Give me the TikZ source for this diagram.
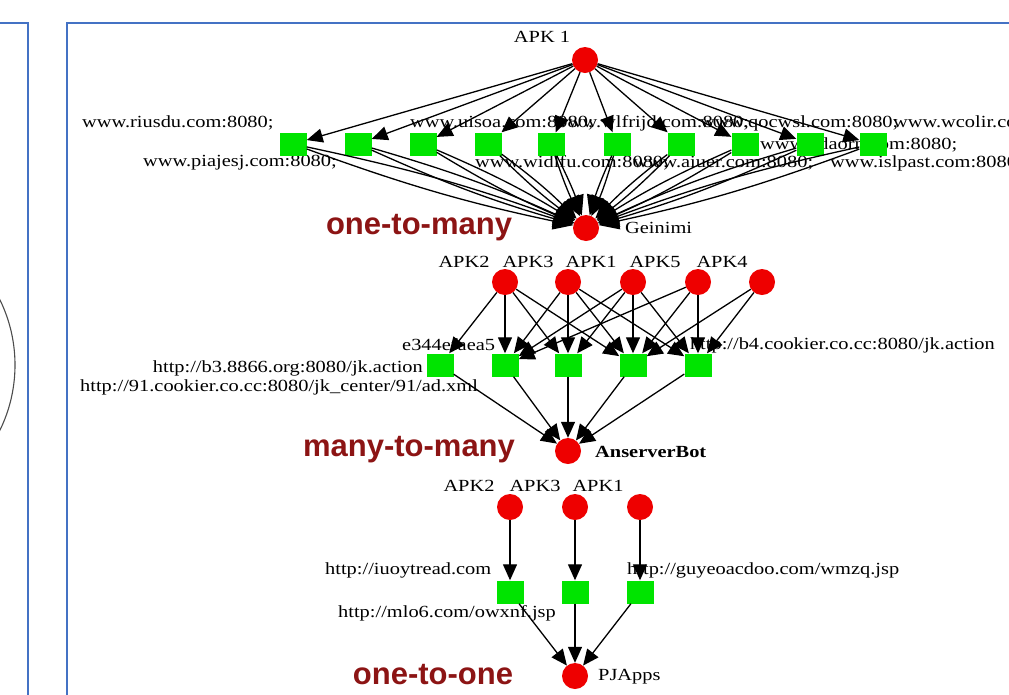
\documentclass[tikz,border=0pt]{standalone}
\usepackage{fontspec}
\usetikzlibrary{arrows.meta}
\newfontfamily\lblfont[FakeStretch=1.2]{Liberation Serif}
\newfontfamily\ttlfont{Liberation Sans}
\definecolor{frameblue}{RGB}{68,114,196}
\definecolor{nodered}{RGB}{238,0,0}
\definecolor{boxgreen}{RGB}{0,228,0}
\definecolor{titlered}{RGB}{140,20,20}
\pgfdeclarelayer{bg}
\pgfsetlayers{bg,main}
\begin{document}
\begin{tikzpicture}[x=1pt,y=-1pt,
  host/.style={circle, fill=nodered, minimum size=26pt, inner sep=0pt},
  url/.style={rectangle, fill=boxgreen, minimum width=27pt, minimum height=23pt, inner sep=0pt},
  lbl/.style={font=\lblfont\fontsize{17}{20}\selectfont, inner sep=0pt},
  lblw/.style={lbl, anchor=west},
  lble/.style={lbl, anchor=east},
  kind/.style={font=\ttlfont\bfseries\fontsize{31}{36}\selectfont, text=titlered, inner sep=0pt},
  link/.style={draw=black, line width=1.3pt, -{Triangle[length=16pt,width=14pt]}},
  fan/.style={draw=black, line width=1.3pt, -{Triangle[length=20pt,width=17pt]}},
  panel/.style={draw=frameblue, line width=1.2pt}
]
\useasboundingbox (0,0) rectangle (1009,694);
\clip (0,0) rectangle (1009,694);

% ---------- nodes ----------
% one-to-many: Geinimi
\node[host] (apk) at (585,60) {};
\foreach \x [count=\i] in {293,358,423,488,551,617,681,745,810,873}
  \node[url] (t\i) at (\x,144) {};
\node[host] (gei) at (586,228) {};

% many-to-many: AnserverBot
\foreach \x [count=\i] in {505,568,633,698,762}
  \node[host] (m\i) at (\x,282) {};
\foreach \x [count=\i] in {440,505,568,633,698}
  \node[url] (s\i) at (\x,365) {};
\node[host] (bot) at (568,451) {};

% one-to-one: PJApps
\foreach \x [count=\i] in {510,575,640}
  \node[host] (b\i) at (\x,507) {};
\foreach \x [count=\i] in {510,575,640}
  \node[url] (u\i) at (\x,592) {};
\node[host] (pj) at (575,676) {};

% ---------- edges ----------
\foreach \i in {1,...,10} {
  \draw[link] (apk) -- (t\i);
  \draw[fan] (t\i) to[bend left=4] (gei);
  \draw[fan] (t\i) to[bend right=4] (gei);
}
\foreach \a/\b in {1/1,1/2,1/3,1/4, 2/2,2/3,2/4,2/5, 3/2,3/3,3/4,3/5, 4/2,4/4,4/5, 5/4,5/5}
  \draw[link] (m\a) -- (s\b);
\foreach \i in {1,...,5}
  \draw[link] (s\i) -- (bot);
\foreach \i in {1,2,3} {
  \draw[link] (b\i) -- (u\i);
  \draw[link] (u\i) -- (pj);
}

% ---------- frames and labels ----------
\begin{pgfonlayer}{bg}
\draw[panel] (0,23) -- (28,23) -- (28,700);
\draw[panel] (1015,23) -- (67,23) -- (67,700);
\draw[gray!60!black, line width=1.1pt] (-133,365) circle[radius=148];

\node[lbl] at (542,37) {APK 1};
\node[lblw] at (82,123) {www.riusdu.com:8080;};
\node[lblw] at (410,123) {www.uisoa.com:8080;};
\node[lblw] at (553,123) {www.wlfrijd.com:8080;};
\node[lblw] at (700,123) {www.qocwsl.com:8080;};
\node[lblw] at (893,123) {www.wcolir.com:8080;};
\node[lblw] at (760,145) {www.ydaorn.com:8080;};
\node[lblw] at (143,163) {www.piajesj.com:8080;};
\node[lblw] at (475,163) {www.widlfu.com:8080;};
\node[lblw] at (633,163) {www.aiuer.com:8080;};
\node[lblw] at (830,163) {www.islpast.com:8080;};
\node[lblw] at (625,228) {Geinimi};
\node[kind] at (419,228) {one-to-many};

\foreach \x/\t in {464/APK2,528/APK3,591/APK1,655/APK5,722/APK4}
  \node[lbl] at (\x,262) {\t};
\node[lblw] at (402,345) {e344efaea5};
\node[lble] at (995,345) {http://b4.cookier.co.cc:8080/jk.action};
\node[lble] at (423,368) {http://b3.8866.org:8080/jk.action};
\node[lblw] at (80,387) {http://91.cookier.co.cc:8080/jk\_center/91/ad.xml};
\node[lblw] at (595,452) {\bfseries AnserverBot};
\node[kind] at (409,450) {many-to-many};

\foreach \x/\t in {469/APK2,535/APK3,598/APK1}
  \node[lbl] at (\x,486) {\t};
\node[lblw] at (325,570) {http://iuoytread.com};
\node[lblw] at (627,570) {http://guyeoacdoo.com/wmzq.jsp};
\node[lblw] at (338,613) {http://mlo6.com/owxnf.jsp};
\node[lblw] at (598,677) {PJApps};
\node[kind] at (433,675) {one-to-one};
\end{pgfonlayer}
\end{tikzpicture}
\end{document}
